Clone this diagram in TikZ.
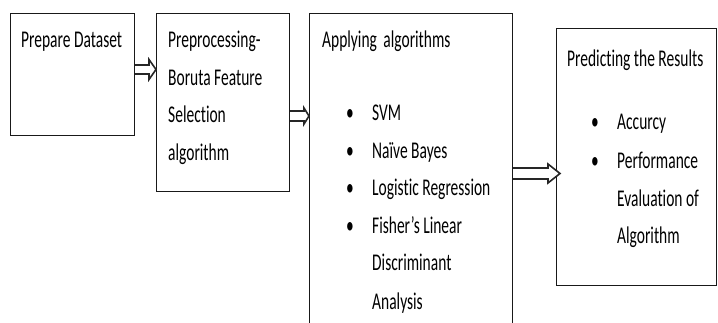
\documentclass[tikz,border=0pt]{standalone}
\usepackage{fontspec}
\setmainfont{Carlito}[FakeStretch=0.645, Ligatures=NoCommon]
\usetikzlibrary{calc}

\tikzset{
  box/.style={draw=black!90, line width=1.1pt, rectangle, inner sep=0pt, anchor=north west},
  txt/.style={anchor=base west, inner sep=0pt, font=\fontsize{24pt}{28pt}\selectfont},
  arrowline/.style={draw=black!85, line width=1.6pt, line join=miter, fill=white}
}

% hollow block arrow from #1 to #2: shaft half height #3, head half height #4, head length #5
\newcommand\flowarrow[5]{%
  \draw[arrowline] let \p1=(#1), \p2=(#2) in
    (\x1,\y1+#3) -- (\x2-#5,\y2+#3) -- (\x2-#5,\y2+#4) -- (\x2,\y2)
    -- (\x2-#5,\y2-#4) -- (\x2-#5,\y2-#3) -- (\x1,\y1-#3);}

\begin{document}
\begin{tikzpicture}[x=1pt,y=-1pt]
\useasboundingbox (0,0) rectangle (718,323);
\clip (0,0) rectangle (718,323);

% process boxes
\node[box, minimum width=124pt, minimum height=122pt] (b1) at (10,13) {};
\node[box, minimum width=133pt, minimum height=178pt] (b2) at (156,13) {};
\node[box, minimum width=203pt, minimum height=330pt] (b3) at (309,13) {};
\node[box, minimum width=160pt, minimum height=257pt] (b4) at (556,28) {};

% box 1
\node[txt] (t1) at (21,48) {Prepare Dataset};

% box 2
\node[txt] (t2a) at (168,48) {Preprocessing-};
\node[txt] (t2b) at (168,85.5) {Boruta Feature};
\node[txt] (t2c) at (168,123) {Selection};
\node[txt] (t2d) at (168,160.5) {algorithm};

% box 3
\node[txt] (t3) at (322,48) {Applying\hspace{3pt} algorithms};
\foreach \yy/\lbl [count=\i] in {121/SVM, 158.5/Naïve Bayes, 196/Logistic Regression, 233.5/Fisher’s Linear}{
  \node[txt] (m\i) at (346,\yy) {•};
  \node[txt] (a\i) at (372,\yy) {\lbl};
}
\node[txt] (a5) at (372,271) {Discriminant};
\node[txt] (a6) at (372,309) {Analysis};

% box 4
\node[txt] (t4) at (567,67) {Predicting the Results};
\node[txt] (n1) at (591,130) {•};
\node[txt] (r1) at (617,130) {Accurcy};
\node[txt] (n2) at (591,169) {•};
\node[txt] (r2) at (617,169) {Performance};
\node[txt] (r3) at (617,206.5) {Evaluation of};
\node[txt] (r4) at (617,244) {Algorithm};

% connectors
\flowarrow{b1.east |- 0,69.5}{b2.west |- 0,69.5}{4.5}{10}{7}
\flowarrow{b2.east |- 0,116}{b3.west |- 0,116}{5}{8}{5}
\flowarrow{b3.east |- 0,173.5}{$(b4.west |- 0,173.5)+(4,0)$}{5.5}{9.5}{12}
\end{tikzpicture}
\end{document}
